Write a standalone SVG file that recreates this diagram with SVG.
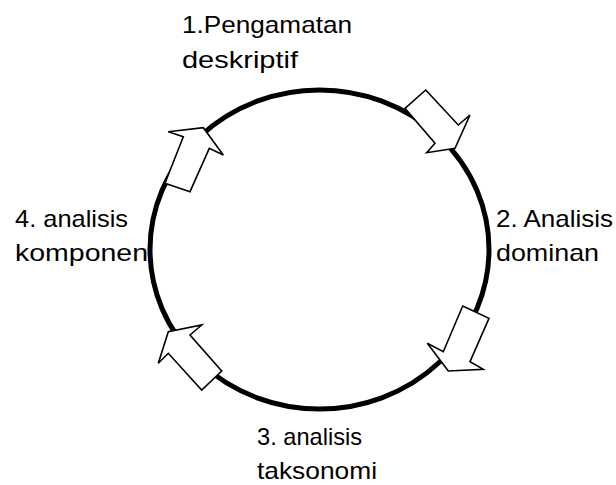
<svg xmlns="http://www.w3.org/2000/svg" width="616" height="485" viewBox="0 0 616 485">
<style>
.lbl{font-family:"Liberation Sans","Open Sans",Arial,sans-serif;font-size:24px;fill:#000}
.ring{fill:none;stroke:#000;stroke-width:5}
.arr{fill:#fff;stroke:#000;stroke-width:1.6;stroke-linejoin:miter}
</style>
<rect width="616" height="485" fill="#fff"/>
<g id="cycle">
<ellipse class="ring" cx="319.5" cy="249.5" rx="169.5" ry="159.5"/>
</g>
<g id="connectors">
<polygon class="arr" points="425.7,90 458.3,125 470,115 455,148.3 426.7,152.7 435,143.3 405,108.3"/>
<polygon class="arr" points="462.7,306 489,318.3 470,361.7 483.3,369.3 448.3,371 427.3,343.3 443.3,351.7"/>
<polygon class="arr" points="221.7,371 190,335 201.7,325 168.3,331.7 158.3,363.3 168.3,353.3 201.7,390"/>
<polygon class="arr" points="165,183.3 183.3,136.7 168.3,131.7 203.3,127.7 223.3,155 209.3,148.3 190,191.7"/>
</g>
<g id="node1">
<text class="lbl" x="182" y="33" textLength="170" lengthAdjust="spacingAndGlyphs">1.Pengamatan</text>
<text class="lbl" x="182" y="68" textLength="116" lengthAdjust="spacingAndGlyphs">deskriptif</text>
</g>
<g id="node2">
<text class="lbl" x="496" y="227" textLength="117" lengthAdjust="spacingAndGlyphs">2. Analisis</text>
<text class="lbl" x="496" y="261" textLength="103" lengthAdjust="spacingAndGlyphs">dominan</text>
</g>
<g id="node3">
<text class="lbl" x="257" y="445" textLength="105" lengthAdjust="spacingAndGlyphs">3. analisis</text>
<text class="lbl" x="257" y="479" textLength="120" lengthAdjust="spacingAndGlyphs">taksonomi</text>
</g>
<g id="node4">
<text class="lbl" x="15" y="227" textLength="113" lengthAdjust="spacingAndGlyphs">4. analisis</text>
<text class="lbl" x="15" y="261" textLength="133" lengthAdjust="spacingAndGlyphs">komponen</text>
</g>
</svg>
